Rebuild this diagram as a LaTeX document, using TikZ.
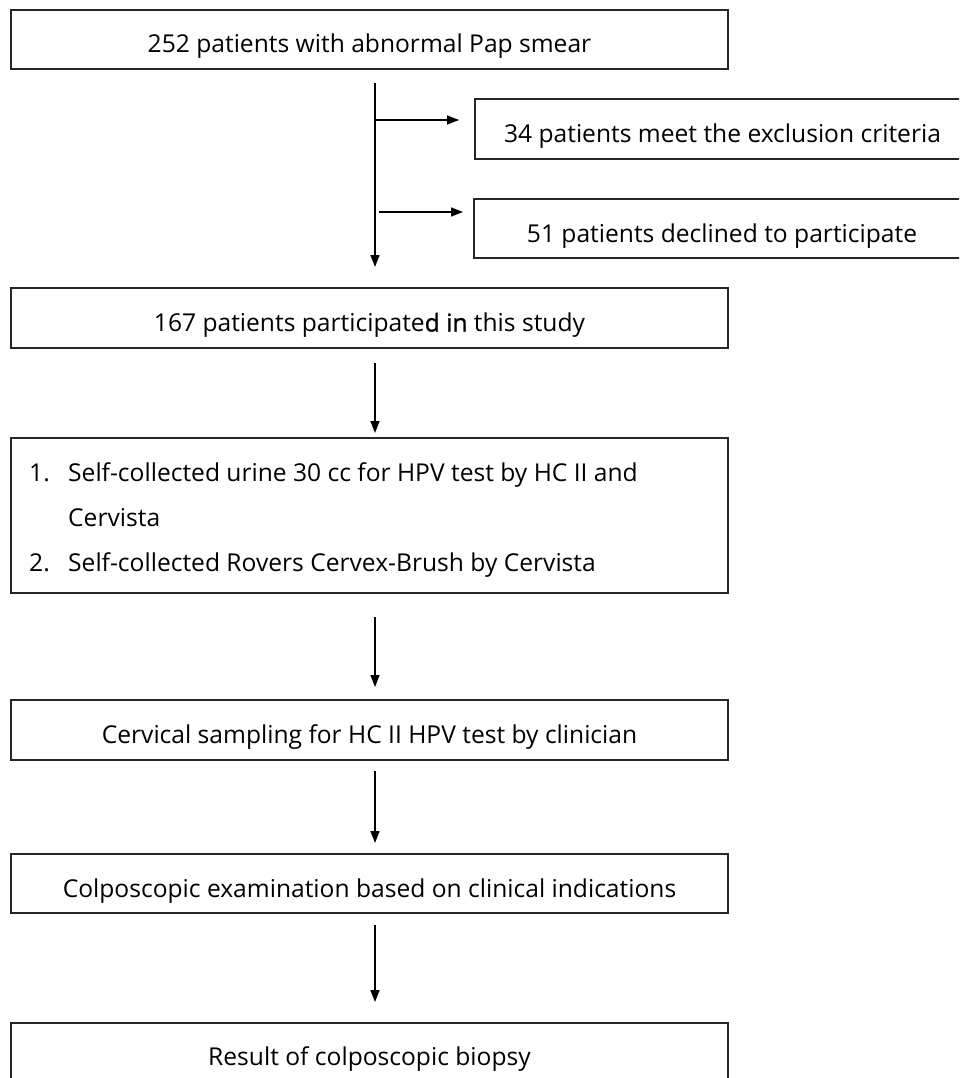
\documentclass[tikz,border=0pt]{standalone}
\usepackage{fontspec}
\setmainfont{Open Sans}
\newfontfamily\boldish[FakeBold=1.2]{Open Sans}
\usetikzlibrary{arrows.meta}
\begin{document}
\begin{tikzpicture}[x=1pt,y=-1pt,
  box/.style={draw=black!85,line width=1.5pt,rectangle,inner sep=0pt,text height=31pt,text depth=4pt,font=\fontsize{24.6}{29}\selectfont},
  txt/.style={inner sep=0pt,font=\fontsize{24.6}{29}\selectfont,anchor=base west},
  arr/.style={draw=black,line width=1.5pt,-{Triangle[length=12pt,width=9pt]}}]
\useasboundingbox (0,0) rectangle (959,1078);
\fill[white] (0,0) rectangle (959,1078);
\begin{scope}
\clip (0,0) rectangle (959,1078);
\node[box,minimum width=717pt,minimum height=59pt] (b1) at (369.5,39.5) {252 patients with abnormal Pap smear};
\node[box,minimum width=495pt,minimum height=60pt] (b2) at (722.5,129) {34 patients meet the exclusion criteria};
\node[box,minimum width=496pt,minimum height=59pt] (b3) at (722,228.5) {51 patients declined to participate};
\node[box,minimum width=717pt,minimum height=60pt] (b4) at (369.5,318) {167 patients participate{\boldish d in} this study};
\node[box,minimum width=717pt,minimum height=155pt] (b5) at (369.5,515.5) {};
\node[txt] (n1) at (29,481.5) {1.};
\node[txt] (t1) at (68,481.5) {Self-collected urine 30 cc for HPV test by HC II and};
\node[txt] (t1b) at (68,526.5) {Cervista};
\node[txt] (n2) at (29,571.5) {2.};
\node[txt] (t2) at (68,571.5) {Self-collected Rovers Cervex-Brush by Cervista};
\node[box,minimum width=717pt,minimum height=60pt] (b6) at (369.5,730) {Cervical sampling for HC II HPV test by clinician};
\node[box,minimum width=717pt,minimum height=59pt] (b7) at (369.5,883.5) {Colposcopic examination based on clinical indications};
\node[box,minimum width=717pt,minimum height=70pt] (b8) at (369.5,1058) {};
\node[inner sep=0pt,anchor=base,font=\fontsize{24.6}{29}\selectfont] (t8) at (369.5,1065) {Result of colposcopic biopsy};
\end{scope}
\coordinate (m0) at (375,83);
\coordinate (m1) at (375,267);
\coordinate (j1) at (375,120);
\coordinate (e1) at (459,120);
\coordinate (j2) at (379,212);
\coordinate (e2) at (463,212);
\draw[arr] (m0) -- (m1);
\draw[arr] (j1) -- (e1);
\draw[arr] (j2) -- (e2);
\coordinate (a4) at (375,363);
\coordinate (a5) at (375,433);
\draw[arr] (a4) -- (a5);
\coordinate (c5) at (375,617);
\coordinate (c6) at (375,687);
\draw[arr] (c5) -- (c6);
\coordinate (d6) at (375,771);
\coordinate (d7) at (375,843);
\draw[arr] (d6) -- (d7);
\coordinate (f7) at (375,925);
\coordinate (f8) at (375,1002);
\draw[arr] (f7) -- (f8);
\end{tikzpicture}
\end{document}
